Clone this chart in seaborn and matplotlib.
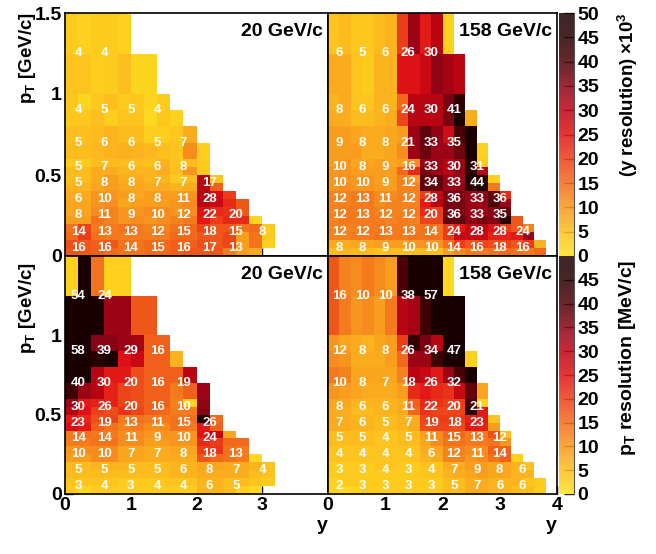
import numpy as np
import pandas as pd
import matplotlib
matplotlib.use("Agg")
import matplotlib.pyplot as plt
from matplotlib.colors import LinearSegmentedColormap
import seaborn as sns

sns.set_theme(style="white")
plt.rcParams['font.family'] = ['Liberation Sans', 'DejaVu Sans']
plt.rcParams['font.weight'] = 'bold'
plt.rcParams['mathtext.fontset'] = 'custom'
plt.rcParams['mathtext.rm'] = 'Liberation Sans:bold'
plt.rcParams['mathtext.default'] = 'rm'

# Row repeat on a 0.05 GeV/c grid, bottom to top
row_repeat = [1]*12 + [2]*4 + [5]*2
n_cols = 20

# y resolution, 20 GeV/c (rows bottom to top)
y_res_20 = [
 [17,17,16,15,14,14,15,15,16,17,17,17,13,9,7],
 [18,17,16,17,14,14,15,15,16,16,18,17,19,9,14,2],
 [15,20,14,13,13,13,13,13,15,15,17,17,19,9,14,3],
 [14,19,13,13,14,13,12,12,14,15,19,17,17,14,15,3],
 [9,9,14,12,10,11,10,11,12,13,24,20,22,22,1.5],
 [8,8,11,12,10,10,11,11,10,11,25,22,21,17],
 [8,8,10,11,8,9,9,9,10,11,30,28,22,17],
 [7,7,10,10,9,8,9,9,9,10,30,27,20],
 [6,6,8,9,8,8,7,7,6,7,30,16],
 [5,5,7,9,7,7,6,6,3,5,30,4],
 [5,5,7,7,6,6,6,7,4.5,10,3],
 [3,3,5,5,5,5,4.5,6,4,5,3],
 [5,5,5.5,6,6.5,6,5.5,4.5,4,11,2.5],
 [4.5,4.5,5,6,5,5,2.5,2.5,3.5,7],
 [3.5,3.5,4.5,2.5,4,4,1,3.5,2],
 [3.5,1.5,3.5,4.5,3,3.5,1.5,3],
 [4,4,2.5,3,4.5,1.5,1.5],
 [3,2,3,3,2],
]
# y resolution, 158 GeV/c
y_res_158 = [
 [5,6,5,5,4,5,5,5,5,5,9,11,13,13,14,15,14,13,15],
 [7,7,8,8,9,9,9,10,10,10,14,20,17,19,18,19,17,20,6],
 [12,12,13,13,14,13,13,14,14,14,20,28,28,28,23,23,24,33],
 [12,12,12,13,13,13,13,13,14,14,20,24,28,30,25,20,17,12],
 [12,13,13,13,13,12,13,12,19,19,38,38,34,36,35,44,17],
 [12,13,13,13,12,12,12,13,22,20,36,36,33,33,35,38],
 [12,12,13,13,11,12,12,12,24,30,36,36,33,33,40,33],
 [12,12,13,13,11,11,12,12,20,28,36,36,33,34,38,22],
 [10,11,10,10,9,9,12,12,38,38,33,34,44,50,13],
 [10,10,10,10,9,9,12,10,38,38,33,33,50,45,2],
 [10,10,9,9,9,9,15,22,36,33,30,34,44,30],
 [9,10,8,8,9,8,9,11,33,33,30,33,45,3],
 [9,9,9,7,7,8,11,33,37,33,33,37,50,2],
 [9,9,8,7,7,8,9,33,38,34,27,40,50],
 [7,7,5,5,6,7,19,30,30,30,36,48,7],
 [6,7,4,4,6,6,15,30,30,30,36,44],
 [7,7,4,3,6,6,25,25,28,34,32,30],
 [4,5,3.5,3.5,5,6,20,33,24,30,2],
]
# pT resolution, 20 GeV/c
pt_res_20 = [
 [3,1.5,3,3,3,3,3,3,3,3,6,6,5,2.5,1],
 [4,4,4,4,3,3,3,4,4,4,6,6,5,5,4,3],
 [5,5,5,5,5,5,5,5,6,6,7,7,7,7,5,4],
 [5,5,6,6,6,5,5,5,6,6,8,8,7,7,6,4],
 [9,9,11,11,8,8,7,7,7,7,17,15,14,13,1],
 [10,11,11,11,8,8,7,7,8,8,20,21,14,13],
 [13,13,14,14,11,11,9,9,10,10,22,20,15,15],
 [13,14,13,13,11,11,10,10,10,10,25,29,8],
 [26,24,16,14,12,13,11,11,14,13,24,16],
 [24,22,18,19,13,14,13,13,14,14,60,15],
 [30,25,20,18,21,19,16,15,13,13,35],
 [33,24,23,23,19,18,16,16,12,2,34],
 [42,33,30,23,19,18,16,16,13,16,33],
 [60,50,30,24,24,18,16,16,16,30],
 [60,58,45,55,25,28,16,16,6],
 [60,60,35,35,33,32,16,16],
 [60,60,60,33,33,17,17],
 [2,60,14,2,2],
]
# pT resolution, 158 GeV/c
pt_res_158 = [
 [2,1,2,3,3,3,3,3,3,3,5,5,7,7,6,6,5,5,3],
 [2,3,3,3,3,3,3,3,3,3,5,5,7,7,6,6,6,4,3],
 [3,3,3,3,3,3,3,3,4,4,6,7,8,9,8,8,6,6],
 [3,3,3,3,4,4,3,3,4,4,7,7,9,9,8,8,6,4],
 [4,4,4,4,4,4,4,4,6,7,12,12,10,11,14,16,2],
 [4,4,4,4,4,4,4,4,7,8,12,12,11,11,16,16],
 [5,5,5,5,4,4,5,5,8,11,14,14,13,13,14,10],
 [5,5,5,5,4,4,5,5,9,11,15,15,13,13,18,5],
 [7,7,6,6,5,5,6,7,18,19,19,18,24,23,9],
 [7,7,6,6,5,5,6,7,19,20,20,20,23,24,4],
 [7,7,5,5,6,6,7,15,21,19,19,19,45,24],
 [8,8,6,6,6,6,7,16,22,21,20,20,40,2],
 [10,9,8,7,7,7,9,22,24,22,21,28,38,8],
 [13,12,8,8,8,8,12,30,28,24,33,40,52],
 [11,10,7,7,7,9,15,33,33,42,50,52,2],
 [10,8,7,6,8,9,20,43,36,30,50,53],
 [17,13,10,11,9,13,30,32,42,58,55,58],
 [17,12,11,13,11,9,40,50,55,52,1],
]

# Printed numbers: rows at label_pt, columns at label_y
label_y = [0.2, 0.6, 1.0, 1.4, 1.8, 2.2, 2.6, 3.0, 3.4]
label_pt = [0.05, 0.15, 0.25, 0.35, 0.45, 0.55, 0.7, 0.9, 1.25]
labels_a = [[16,16,14,15,16,17,13],[14,13,13,12,15,18,15,8],[8,11,9,10,12,22,20],
            [6,10,8,8,11,28],[5,8,8,7,7,17],[5,7,6,6,8],[5,6,6,5,7],[4,5,5,4],[4,4]]
labels_b = [[8,8,9,10,10,14,16,18,16],[12,12,13,13,14,24,28,28,24],[12,13,12,12,20,36,33,35],
            [12,13,11,12,28,36,33,36],[10,10,9,12,34,33,44],[10,8,9,16,33,30,31],
            [9,8,8,21,33,35],[8,6,6,24,30,41],[6,5,6,26,30]]
labels_c = [[3,4,3,4,4,6,5],[5,5,5,5,6,8,7,4],[10,10,7,7,8,18,13],[14,14,11,9,10,24],
            [23,19,13,11,15,26],[30,26,20,16,10],[40,30,20,16,19],[58,39,29,16],[54,24]]
labels_d = [[2,3,3,3,3,5,7,6,6],[3,3,4,3,4,7,9,8,6],[4,4,4,4,6,12,11,14],[5,5,4,5,11,15,13,12],
            [7,6,5,7,19,18,23],[8,6,6,11,22,20,21],[10,8,7,18,26,32],[12,8,8,26,34,47],[16,10,10,38,57]]

cmap = LinearSegmentedColormap.from_list("res", [
    (0.00, "#ffe01e"), (0.10, "#fcbc1e"), (0.20, "#f8961e"), (0.30, "#f26a1c"),
    (0.40, "#ec3e18"), (0.50, "#e01216"), (0.60, "#bc0412"), (0.66, "#a00416"),
    (0.70, "#8a0414"), (0.80, "#4e0208"), (0.90, "#2a0000"), (1.00, "#1a0000")], N=100)

W, H = 656, 554
fig = plt.figure(figsize=(W/100, H/100), dpi=100)

def rect(x0, y0, x1, y1):
    return [x0/W, 1-y1/H, (x1-x0)/W, (y1-y0)/H]

def expand(rows):
    m = np.full((len(rows), n_cols), np.nan)
    for i, r in enumerate(rows):
        m[i, :len(r)] = r
    return pd.DataFrame(np.repeat(m, row_repeat, axis=0))

def panel(box, rows, labels, title, xt, yt, title_y, cax=None):
    ax = fig.add_axes(rect(*box))
    sns.heatmap(expand(rows), ax=ax, cmap=cmap, vmin=0, vmax=50, cbar=cax is not None,
                cbar_ax=cax, xticklabels=False, yticklabels=False, linewidths=0)
    ax.set_xlim(0, 20); ax.set_ylim(0, 30)
    ax.set_xlabel(""); ax.set_ylabel("")
    for s in ax.spines.values():
        s.set_visible(True); s.set_color("black"); s.set_linewidth(1.2)
    ax.set_xticks([v/0.2 for v in xt[0]])
    ax.set_xticklabels(xt[1], fontsize=14, fontweight='bold')
    ax.set_yticks([v/0.05 for v in yt[0]])
    ax.set_yticklabels(yt[1], fontsize=14, fontweight='bold')
    ax.tick_params(axis='both', direction='in', length=6, width=1, color='black', pad=2.5,
                   bottom=True, left=True, top=False, right=False, labelcolor='black')
    for pt, row in zip(label_pt, labels):
        for yv, v in zip(label_y, row):
            ax.text(yv/0.2, pt/0.05, str(v), color='white', fontsize=9.5, fontweight='bold',
                    ha='center', va='center')
    ax.text(0.98, title_y, title, transform=ax.transAxes, ha='right', va='center',
            fontsize=14, fontweight='bold', color='black')
    return ax

x_left = ([0,1,2,3], ["0","1","2","3"])
x_right = ([0,1,2,3,4], ["0","1","2","3","4"])
x_top = ([1,2,3], ["","",""])
y_top = ([0,0.5,1,1.5], ["0","0.5","1","1.5"])
y_bot = ([0,0.5,1], ["0","0.5","1"])
y_blank = ([0.5,1], ["",""])

cax1 = fig.add_axes(rect(559, 13, 574, 256))
cax2 = fig.add_axes(rect(559, 256, 574, 494))

panel((65, 13, 328, 256), y_res_20, labels_a, "20 GeV/c", x_top, y_top, 0.922)
panel((328, 13, 557, 256), y_res_158, labels_b, "158 GeV/c", x_top, y_blank, 0.922, cax1)
panel((65, 256, 328, 494), pt_res_20, labels_c, "20 GeV/c", x_left, y_bot, 0.924)
panel((328, 256, 557, 494), pt_res_158, labels_d, "158 GeV/c", x_right, y_blank, 0.924, cax2)

cax1.set_yticks(np.arange(0, 51, 5))
cax2.set_yticks(np.arange(0, 46, 5))
for c in (cax1, cax2):
    c.tick_params(axis='y', direction='in', length=7, width=1, labelsize=14, pad=2.5, color='#302020',
                  left=False, right=True, labelcolor='black')
    for coll in c.collections:
        coll.set_alpha(0.85)
    for name, s in c.spines.items():
        s.set_visible(name == 'right'); s.set_linewidth(0.8); s.set_color('#555555')
    for t in c.get_yticklabels():
        t.set_fontweight('bold')

def ftext(x, y, s, rot=0, ha='center', va='center', fs=14):
    fig.text(x/W, 1-y/H, s, rotation=rot, ha=ha, va=va, fontsize=fs, fontweight='bold', color='black')

ftext(27, 58, r"p$_{T}$ [GeV/c]", rot=90, fs=13.5)
ftext(27, 308, r"p$_{T}$ [GeV/c]", rot=90, fs=13.5)
ftext(322, 525, "y")
ftext(551, 525, "y")
ftext(628, 95, r"(y resolution) $\times$10$^{3}$", rot=90, fs=13.5)
ftext(628, 358, r"p$_{T}$ resolution [MeV/c]", rot=90)

fig.savefig("out.png", dpi=100)
